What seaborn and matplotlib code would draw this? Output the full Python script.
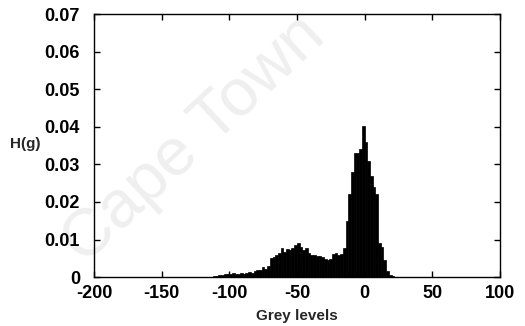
import numpy as np
import pandas as pd
import matplotlib
matplotlib.use("Agg")
import matplotlib.pyplot as plt
import seaborn as sns

# grey-level histogram, bins of width 2 starting at -112
BIN_START = -112
BIN_WIDTH = 2
H_VALUES = [
    0.0002, 0.0004, 0.0005, 0.0006, 0.0009, 0.0007, 0.0008, 0.0010,
    0.0008, 0.0009, 0.0010, 0.0009, 0.0011, 0.0013, 0.0012, 0.0016,
    0.0020, 0.0018, 0.0026, 0.0022, 0.0030, 0.0050, 0.0054, 0.0058,
    0.0064, 0.0078, 0.0068, 0.0076, 0.0072, 0.0078, 0.0086, 0.0092,
    0.0080, 0.0072, 0.0078, 0.0064, 0.0059, 0.0059, 0.0057, 0.0056,
    0.0053, 0.0049, 0.0045, 0.0048, 0.0062, 0.0064, 0.0060, 0.0062,
    0.0078, 0.0150, 0.0220, 0.0280, 0.0330, 0.0330, 0.0340, 0.0402,
    0.0360, 0.0310, 0.0270, 0.0240, 0.0220, 0.0090, 0.0080, 0.0045,
    0.0015, 0.0005, 0.0002,
]
X_TICKS = [-200, -150, -100, -50, 0, 50, 100]
Y_TICKS = [0, 0.01, 0.02, 0.03, 0.04, 0.05, 0.06, 0.07]
Y_TICK_LABELS = ["0", "0.01", "0.02", "0.03", "0.04", "0.05", "0.06", "0.07"]

bin_lo = BIN_START
bin_hi = BIN_START + BIN_WIDTH * len(H_VALUES)
df = pd.DataFrame({
    "grey": bin_lo + BIN_WIDTH * np.arange(len(H_VALUES)) + BIN_WIDTH / 2,
    "h": H_VALUES,
})

sns.set_style("ticks")
plt.rcParams["font.family"] = ["Liberation Sans", "DejaVu Sans"]
plt.rcParams["font.weight"] = "bold"

fig = plt.figure(figsize=(5.25, 3.26), dpi=100)
ax = fig.add_axes([0.179, 0.150, 0.773, 0.807])

# faint watermark behind everything
fig.text(0.37, 0.57, "Cape Town", rotation=43, fontsize=48,
         fontweight="normal", color="#efefef", ha="center", va="center",
         zorder=-5)
ax.set_facecolor("none")

sns.histplot(data=df, x="grey", weights="h", binwidth=BIN_WIDTH,
             binrange=(bin_lo, bin_hi), stat="count",
             element="bars", fill=True, color="black", edgecolor="black",
             linewidth=0.5, alpha=1, ax=ax)

ax.set_xlim(-200, 100)
ax.set_ylim(0, 0.07)
ax.set_xticks(X_TICKS)
ax.set_xticklabels([str(t) for t in X_TICKS])
ax.set_yticks(Y_TICKS)
ax.set_yticklabels(Y_TICK_LABELS)
ax.tick_params(direction="in", length=4, width=1, top=True, right=True,
               labelsize=13, colors="black")
ax.tick_params(axis="y", pad=10)
ax.tick_params(axis="x", pad=6)
for lab in ax.get_xticklabels() + ax.get_yticklabels():
    lab.set_fontweight("bold")
for sp in ax.spines.values():
    sp.set_linewidth(1)
    sp.set_color("black")

ax.set_xlabel("Grey levels", fontsize=11, fontweight="bold", labelpad=5)
ax.set_ylabel("H(g)", fontsize=11, fontweight="bold", rotation=0)
ax.yaxis.set_label_coords(-0.169, 0.48)

fig.savefig("out.png", dpi=100)
